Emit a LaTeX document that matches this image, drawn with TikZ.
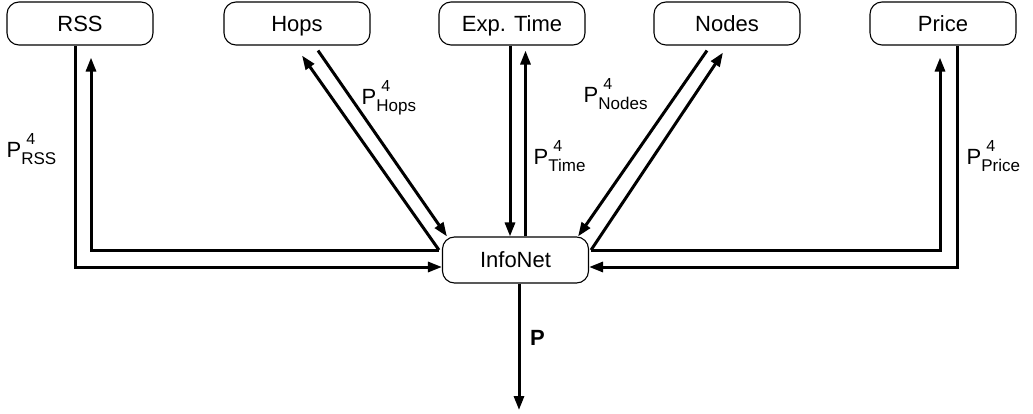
\documentclass[tikz,border=0pt]{standalone}
\usepackage{fontspec}
\setmainfont{Liberation Sans}
\usetikzlibrary{arrows.meta}

% P with superscript 4 and a subscript name
\newcommand{\plab}[1]{P\rlap{\raisebox{13pt}{\kern5pt\fontsize{16}{16}\selectfont 4}}\raisebox{-7pt}{\fontsize{17}{17}\selectfont #1}}

\tikzset{
  box/.style={draw, line width=1.1pt, rounded corners=12pt,
    minimum width=146pt, minimum height=43pt, inner sep=0pt,
    text height=15.5pt, text depth=0pt,
    font=\fontsize{22}{22}\selectfont},
  link/.style={line width=3pt},
  arr/.style={link, -{Triangle[length=14pt,width=10pt]}},
  plabel/.style={anchor=base west, inner sep=0pt, font=\fontsize{22}{22}\selectfont}
}

\begin{document}
\begin{tikzpicture}[x=1pt, y=-1pt]
  \useasboundingbox (0,0) rectangle (1033,414);

  % source boxes
  \node[box] (rss)   at (80,23.5)  {RSS};
  \node[box] (hops)  at (297,23.5) {Hops};
  \node[box] (time)  at (512,23.5) {Exp. Time};
  \node[box] (nodes) at (727,23.5) {Nodes};
  \node[box] (price) at (943,23.5) {Price};

  % aggregator
  \node[box, minimum height=46pt] (info) at (515.5,260) {InfoNet};

  % junctions where the return lines leave InfoNet
  \coordinate (jl) at ([xshift=-3pt,yshift=10pt]info.west);
  \coordinate (jr) at ([xshift=2pt,yshift=10pt]info.east);
  \coordinate (out) at (519,410);

  % RSS
  \draw[arr] ([xshift=-5pt]rss.south) |- ([yshift=-7pt]info.west);
  \draw[arr] (jl) -| ([xshift=11pt,yshift=-12pt]rss.south);

  % Hops
  \draw[arr] ([xshift=21pt,yshift=-5pt]hops.south) -- ([xshift=5pt]info.north west);
  \draw[arr] (jl) -- ([xshift=5pt,yshift=-10pt]hops.south);

  % Exp. Time
  \draw[arr] ([xshift=-2pt]time.south) -- ([xshift=-2pt]time.south |- info.north);
  \draw[arr] ([xshift=10pt]info.north) -- ([xshift=10pt,yshift=-5pt]info.north |- time.south);

  % Nodes
  \draw[arr] ([xshift=-20pt,yshift=-5pt]nodes.south) -- ([xshift=-11pt]info.north east);
  \draw[arr] (jr) -- ([xshift=-4pt,yshift=-7pt]nodes.south);

  % Price
  \draw[arr] ([xshift=14pt]price.south) |- ([yshift=-7pt]info.east);
  \draw[arr] (jr) -| ([xshift=-3pt,yshift=-12pt]price.south);

  % output
  \draw[arr] ([xshift=3.5pt]info.south) -- (out);

  % labels
  \node[plabel] (lrss)   at (6.5,158)   {\plab{RSS}};
  \node[plabel] (lhops)  at (361.5,105) {\plab{Hops}};
  \node[plabel] (ltime)  at (533.5,165) {\plab{Time}};
  \node[plabel] (lnodes) at (583.5,103) {\plab{Nodes}};
  \node[plabel] (lprice) at (966.5,165) {\plab{Price}};
  \node[plabel, font=\fontsize{22}{22}\selectfont\bfseries] (lp) at (530,345) {P};
\end{tikzpicture}
\end{document}
